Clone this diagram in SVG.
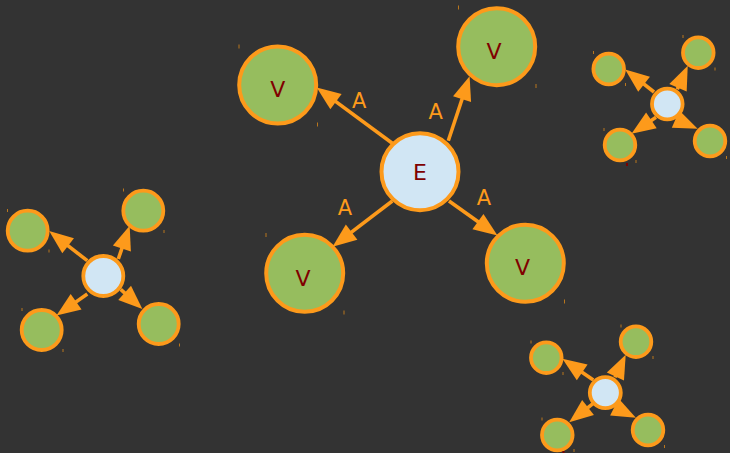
<svg xmlns="http://www.w3.org/2000/svg" width="730" height="453" viewBox="0 0 730 453">
<style>
.bg{fill:#333333}
.v{fill:#96bd5e;stroke:#fd9a1b;stroke-width:4}
.e{fill:#d1e6f4;stroke:#fd9a1b;stroke-width:4}
.vs{fill:#96bd5e;stroke:#fd9a1b;stroke-width:3.8}
.es{fill:#d1e6f4;stroke:#fd9a1b;stroke-width:3.8}
.lbl{font-family:"DejaVu Sans",sans-serif;font-size:22px;fill:#800000;text-anchor:middle}
.el{font-family:"DejaVu Sans",sans-serif;font-size:21px;fill:#fd9a1b;text-anchor:middle}
.edge{stroke:#fd9a1b;stroke-width:3.6;fill:none;marker-end:url(#arr)}
.tick{fill:#b8761e}
.dot{fill:#7a0000}
</style>
<defs>
<marker id="arr" markerUnits="userSpaceOnUse" markerWidth="24" markerHeight="19" refX="17" refY="9.5" orient="auto" overflow="visible">
<path d="M0,0 L24,9.5 L0,19 z" fill="#fd9a1b"/>
</marker>
</defs>
<rect class="bg" x="0" y="0" width="730" height="453"/>
<g id="connectors">
<line class="edge" x1="392.3" y1="143.3" x2="322.3" y2="91.6"/>
<line class="edge" x1="448.3" y1="140.7" x2="467.4" y2="83.0"/>
<line class="edge" x1="392.3" y1="201" x2="338.1" y2="242.4"/>
<line class="edge" x1="449" y1="201" x2="491.8" y2="231.5"/>
<line class="edge" x1="654" y1="92" x2="630.7" y2="73.7"/>
<line class="edge" x1="677.3" y1="89.3" x2="684.9" y2="72.2"/>
<line class="edge" x1="656" y1="117.3" x2="637.3" y2="129.9"/>
<line class="edge" x1="676" y1="119.3" x2="691.2" y2="125.9"/>
<line class="edge" x1="87.3" y1="260.7" x2="54.7" y2="235.4"/>
<line class="edge" x1="118.3" y1="259" x2="127.4" y2="232.4"/>
<line class="edge" x1="87.3" y1="294" x2="62.2" y2="311.6"/>
<line class="edge" x1="120.7" y1="289.3" x2="137.2" y2="304.3"/>
<line class="edge" x1="593.3" y1="380" x2="568.2" y2="362.7"/>
<line class="edge" x1="615" y1="377.3" x2="622.7" y2="361.1"/>
<line class="edge" x1="593.3" y1="403.3" x2="574.7" y2="418"/>
<line class="edge" x1="615" y1="407.3" x2="629.6" y2="414.6"/>
<text class="el" x="359.3" y="107.5">A</text>
<text class="el" x="435.7" y="119">A</text>
<text class="el" x="345" y="214.7">A</text>
<text class="el" x="484" y="204.7">A</text>
</g>
<g id="E"><circle class="e" cx="420" cy="171.7" r="38.5"/><text class="lbl" x="420" y="179.5">E</text></g>
<g id="V1"><circle class="v" cx="277.7" cy="85" r="38.5"/><text class="lbl" x="277.7" y="97">V</text></g>
<g id="V2"><circle class="v" cx="496.7" cy="46.7" r="38.5"/><text class="lbl" x="494" y="58.5">V</text></g>
<g id="V3"><circle class="v" cx="304.7" cy="273.3" r="38.5"/><text class="lbl" x="303" y="285.5">V</text></g>
<g id="V4"><circle class="v" cx="525.3" cy="263.3" r="38.5"/><text class="lbl" x="522.5" y="275">V</text></g>
<g id="TRc"><circle class="es" cx="667.3" cy="104" r="15.3"/></g>
<g id="TR1"><circle class="vs" cx="608.7" cy="69" r="15.3"/></g>
<g id="TR2"><circle class="vs" cx="698.3" cy="52.7" r="15.3"/></g>
<g id="TR3"><circle class="vs" cx="620" cy="145" r="15.3"/></g>
<g id="TR4"><circle class="vs" cx="710" cy="141" r="15.3"/></g>
<g id="Lc"><circle class="es" cx="103.3" cy="276" r="20"/></g>
<g id="L1"><circle class="vs" cx="27.7" cy="230.7" r="20"/></g>
<g id="L2"><circle class="vs" cx="143.3" cy="210.7" r="20"/></g>
<g id="L3"><circle class="vs" cx="41.7" cy="330" r="20"/></g>
<g id="L4"><circle class="vs" cx="158.7" cy="324" r="20"/></g>
<g id="BRc"><circle class="es" cx="605.3" cy="392.7" r="15.5"/></g>
<g id="BR1"><circle class="vs" cx="546.3" cy="357.7" r="15.3"/></g>
<g id="BR2"><circle class="vs" cx="636" cy="341.7" r="15.3"/></g>
<g id="BR3"><circle class="vs" cx="557.3" cy="435" r="15.3"/></g>
<g id="BR4"><circle class="vs" cx="648" cy="430" r="15.3"/></g>
<g id="marks">
<rect class="tick" x="238.5" y="44.5" width="1" height="4"/>
<rect class="tick" x="317" y="122.5" width="1" height="4"/>
<rect class="tick" x="458" y="5.5" width="1" height="4"/>
<rect class="tick" x="535.5" y="84" width="1" height="4"/>
<rect class="tick" x="265.5" y="233" width="1" height="4"/>
<rect class="tick" x="343.5" y="310.5" width="1" height="4"/>
<rect class="tick" x="564" y="299.5" width="1" height="4"/>
<rect class="tick" x="593" y="51" width="1" height="3"/>
<rect class="tick" x="625" y="83" width="1" height="3"/>
<rect class="tick" x="682.5" y="35" width="1" height="3"/>
<rect class="tick" x="714.5" y="67.5" width="1" height="3"/>
<rect class="tick" x="603.5" y="128" width="1" height="3"/>
<rect class="tick" x="635.5" y="160" width="1" height="3"/>
<rect class="tick" x="726" y="156" width="1" height="3"/>
<rect class="tick" x="7" y="209" width="1" height="3"/>
<rect class="tick" x="48.5" y="249.5" width="1" height="3"/>
<rect class="tick" x="123" y="188.5" width="1" height="3"/>
<rect class="tick" x="163.5" y="230" width="1" height="3"/>
<rect class="tick" x="21.5" y="308" width="1" height="3"/>
<rect class="tick" x="62.5" y="349" width="1" height="3"/>
<rect class="tick" x="179" y="343.5" width="1" height="3"/>
<rect class="tick" x="530.5" y="340.5" width="1" height="3"/>
<rect class="tick" x="562.5" y="372" width="1" height="3"/>
<rect class="tick" x="620.5" y="324.5" width="1" height="3"/>
<rect class="tick" x="652.5" y="356" width="1" height="3"/>
<rect class="tick" x="541.5" y="417.5" width="1" height="3"/>
<rect class="tick" x="573.5" y="449" width="1" height="3"/>
<rect class="tick" x="664" y="445" width="1" height="3"/>
<rect class="dot" x="626" y="163" width="2" height="3"/>
<rect class="dot" x="562.5" y="451" width="2" height="2"/>
</g>
</svg>
